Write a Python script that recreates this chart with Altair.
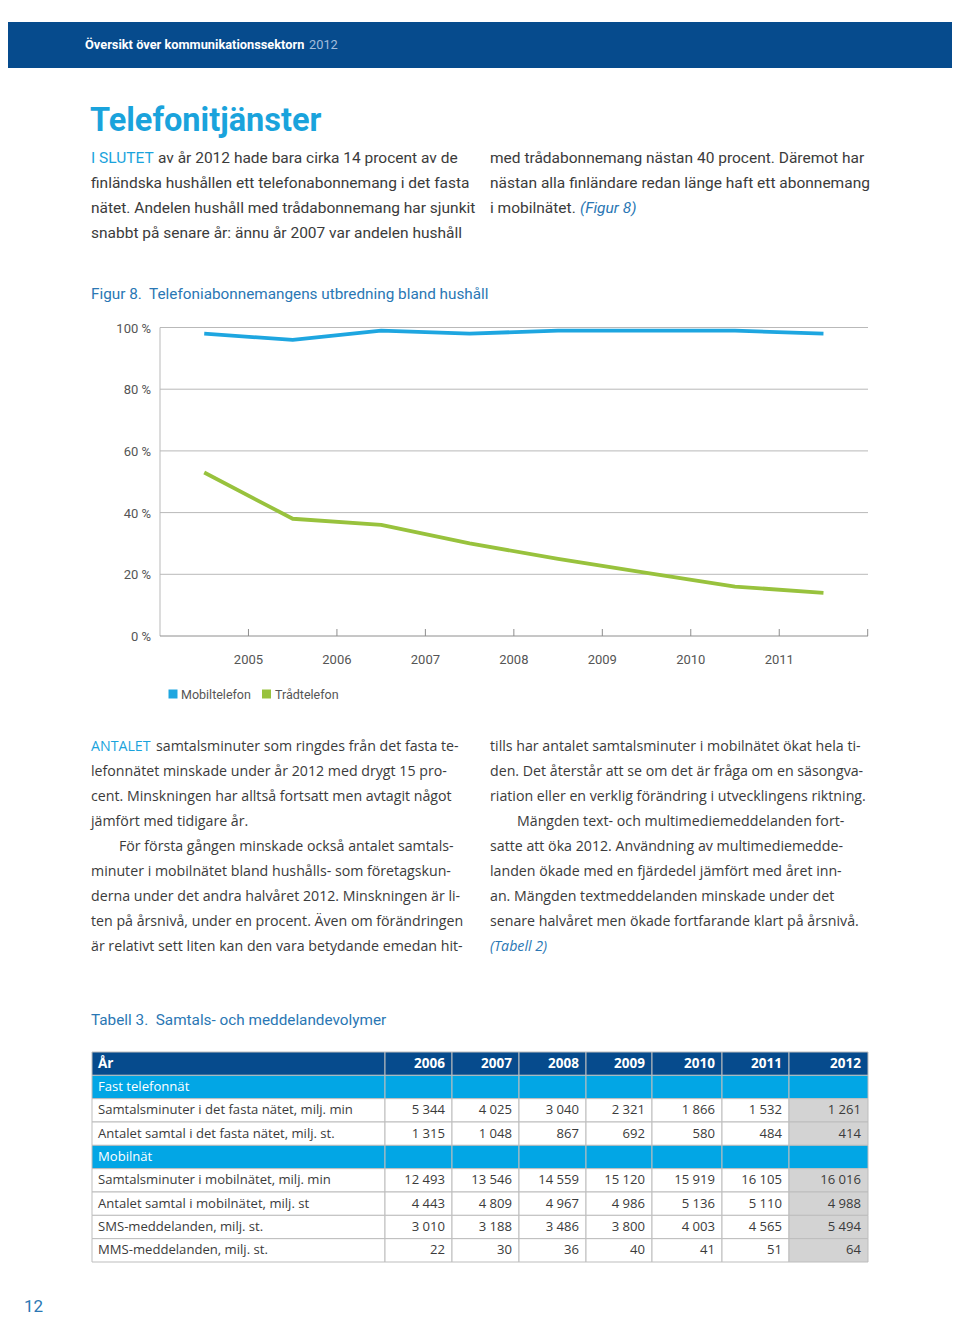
import altair as alt
import pandas as pd

# ---------------- Figur 8 data ----------------
SERIES = ["Mobiltelefon", "Trådtelefon"]
POINT_YEAR = [2004.5, 2005.5, 2006.5, 2007.5, 2008.5, 2009.5, 2010.5, 2011.5]
MOBILTELEFON = [98, 96, 99, 98, 99, 99, 99, 98]
TRADTELEFON = [53, 38, 36, 30, 25, 20.5, 16, 14]
X_TICK_YEARS = [2005, 2006, 2007, 2008, 2009, 2010, 2011]
X_EDGE_YEARS = [2012]
Y_TICKS = [0, 20, 40, 60, 80, 100]

# ---------------- Tabell 3 data ----------------
TABLE_YEARS = [2006, 2007, 2008, 2009, 2010, 2011, 2012]
ROW_LABELS = [
    "År",
    "Fast telefonnät",
    "Samtalsminuter i det fasta nätet, milj. min",
    "Antalet samtal i det fasta nätet, milj. st.",
    "Mobilnät",
    "Samtalsminuter i mobilnätet, milj. min",
    "Antalet samtal i mobilnätet, milj. st",
    "SMS-meddelanden, milj. st.",
    "MMS-meddelanden, milj. st.",
]
ROW_KIND = ["header", "section", "data", "data", "section", "data", "data", "data", "data"]
FIXED_MINUTES = [5344, 4025, 3040, 2321, 1866, 1532, 1261]
FIXED_CALLS = [1315, 1048, 867, 692, 580, 484, 414]
MOBILE_MINUTES = [12493, 13546, 14559, 15120, 15919, 16105, 16016]
MOBILE_CALLS = [4443, 4809, 4967, 4986, 5136, 5110, 4988]
SMS = [3010, 3188, 3486, 3800, 4003, 4565, 5494]
MMS = [22, 30, 36, 40, 41, 51, 64]
ROW_VALUES = {
    ROW_LABELS[2]: FIXED_MINUTES,
    ROW_LABELS[3]: FIXED_CALLS,
    ROW_LABELS[5]: MOBILE_MINUTES,
    ROW_LABELS[6]: MOBILE_CALLS,
    ROW_LABELS[7]: SMS,
    ROW_LABELS[8]: MMS,
}

# ---------------- page texts ----------------
NB = "\u00a0"
HEADER_BOLD = "Översikt över kommunikationssektorn"
HEADER_YEAR = "2012"
TITLE = "Telefonitjänster"
TOP_LEAD = "I SLUTET"
TOP_LEFT = [
    "av år 2012 hade bara cirka 14 procent av de",
    "finländska hushållen ett telefonabonnemang i det fasta",
    "nätet. Andelen hushåll med trådabonnemang har sjunkit",
    "snabbt på senare år: ännu år 2007 var andelen hushåll",
]
TOP_RIGHT = [
    "med trådabonnemang nästan 40 procent. Däremot har",
    "nästan alla finländare redan länge haft ett abonnemang",
    "i mobilnätet.",
]
FIG_REF = "(Figur 8)"
FIG_TITLE = "Figur 8." + NB + " Telefoniabonnemangens utbredning bland hushåll"
LOW_LEAD = "ANTALET"
LOW_LEFT = [
    "samtalsminuter som ringdes från det fasta te-",
    "lefonnätet minskade under år 2012 med drygt 15 pro-",
    "cent. Minskningen har alltså fortsatt men avtagit något",
    "jämfört med tidigare år.",
    "För första gången minskade också antalet samtals-",
    "minuter i mobilnätet bland hushålls- som företagskun-",
    "derna under det andra halvåret 2012. Minskningen är li-",
    "ten på årsnivå, under en procent. Även om förändringen",
    "är relativt sett liten kan den vara betydande emedan hit-",
]
LOW_RIGHT = [
    "tills har antalet samtalsminuter i mobilnätet ökat hela ti-",
    "den. Det återstår att se om det är fråga om en säsongva-",
    "riation eller en verklig förändring i utvecklingens riktning.",
    "Mängden text- och multimediemeddelanden fort-",
    "satte att öka 2012. Användning av multimediemedde-",
    "landen ökade med en fjärdedel jämfört med året inn-",
    "an. Mängden textmeddelanden minskade under det",
    "senare halvåret men ökade fortfarande klart på årsnivå.",
]
TAB_REF = "(Tabell 2)"
TABLE_TITLE = "Tabell 3." + NB + " Samtals- och meddelandevolymer"
PAGE_NO = "12"

# ---------------- styles / layout ----------------
W, H, M = 944, 1310, 8


def P(v):
    return v - M


DARK_BLUE = "#064b8d"
CYAN = "#1aa3dc"
SECTION = "#02a6e5"
LINK = "#2a77b4"
TEXT = "#3b3b3b"
MOBILE_C = "#1ea6e0"
FIXED_C = "#98c23d"
GRID = "#b9b9b9"
AXIS = "#8e8e8e"
LABEL = "#555555"
CELL_LINE = "#bdbdbd"
HIGHLIGHT = "#d3d3d3"

COL_EDGES = [92, 385, 452, 519, 586, 652, 722, 789, 868]
BASE = pd.DataFrame({"a": [0]})


def text_layer(items, size, color, font="Roboto", weight="normal", style="normal",
               align="left", baseline="middle"):
    df = pd.DataFrame([{"x": P(x), "y": P(y), "t": t} for x, y, t in items])
    return alt.Chart(df).mark_text(
        font=font, fontSize=size, fontWeight=weight, fontStyle=style,
        align=align, baseline=baseline, color=color
    ).encode(x=alt.X("x:Q", scale=None), y=alt.Y("y:Q", scale=None), text="t:N")


def xs():
    return alt.Scale(domain=[2004, 2012], range=[P(160), P(867.7)])


def ys():
    return alt.Scale(domain=[0, 100], range=[P(636), P(327.5)])


def cs():
    return alt.Scale(domain=list(range(len(COL_EDGES))), range=[P(e) for e in COL_EDGES])


def rs():
    return alt.Scale(type="band", domain=ROW_LABELS, range=[P(1052), P(1262)],
                     paddingInner=0, paddingOuter=0)


layers = []

# header band
layers.append(alt.Chart(BASE).mark_rect(color=DARK_BLUE).encode(
    x=alt.value(0), x2=alt.value(W), y=alt.value(P(22)), y2=alt.value(P(68))))
layers.append(text_layer([(85, 45, HEADER_BOLD)], 12.8, "#ffffff", weight="bold"))
layers.append(text_layer([(309, 45, HEADER_YEAR)], 12.8, "#a3bddc"))

# title + top paragraph
TS_TOP = 15.5
layers.append(text_layer([(90, 121, TITLE)], 32.5, CYAN, weight="bold"))
TOP_Y = [158, 183, 208, 233]
top_left_items = [((158 if i == 0 else 91), y, t) for i, (y, t) in enumerate(zip(TOP_Y, TOP_LEFT))]
layers.append(text_layer(top_left_items, TS_TOP, TEXT))
layers.append(text_layer([(91, TOP_Y[0], TOP_LEAD)], TS_TOP, CYAN))
layers.append(text_layer([(490, y, t) for y, t in zip(TOP_Y, TOP_RIGHT)], TS_TOP, TEXT))
layers.append(text_layer([(580, TOP_Y[2], FIG_REF)], TS_TOP, LINK, style="italic"))
layers.append(text_layer([(91, 294, FIG_TITLE)], 15.3, LINK))

# ---- Figur 8 chart ----
grid_df = pd.DataFrame({"v": Y_TICKS[1:]})
layers.append(alt.Chart(grid_df).mark_rule(color=GRID, strokeWidth=1).encode(
    y=alt.Y("v:Q", scale=ys(), axis=None), x=alt.value(P(160)), x2=alt.value(P(868))))
layers.append(alt.Chart(pd.DataFrame({"lo": [0], "hi": [100]})).mark_rule(color=GRID, strokeWidth=1).encode(
    y=alt.Y("hi:Q", scale=ys(), axis=None), y2="lo:Q", x=alt.value(P(160))))
layers.append(alt.Chart(pd.DataFrame({"v": Y_TICKS[:1]})).mark_rule(color=AXIS, strokeWidth=1).encode(
    y=alt.Y("v:Q", scale=ys(), axis=None), x=alt.value(P(160)), x2=alt.value(P(868))))
layers.append(alt.Chart(pd.DataFrame({"t": X_TICK_YEARS + X_EDGE_YEARS})).mark_rule(color=AXIS, strokeWidth=1).encode(
    x=alt.X("t:Q", scale=xs(), axis=None), y=alt.value(P(629)), y2=alt.value(P(636))))

ylab_df = pd.DataFrame({"v": Y_TICKS, "label": [f"{v} %" for v in Y_TICKS]})
layers.append(alt.Chart(ylab_df).mark_text(font="Roboto", fontSize=13, color=LABEL, align="right",
                                           baseline="middle", dy=1).encode(
    y=alt.Y("v:Q", scale=ys(), axis=None), x=alt.value(P(151)), text="label:N"))
xlab_df = pd.DataFrame({"t": X_TICK_YEARS, "label": [str(t) for t in X_TICK_YEARS]})
layers.append(alt.Chart(xlab_df).mark_text(font="Roboto", fontSize=13, color=LABEL, align="center",
                                           baseline="middle").encode(
    x=alt.X("t:Q", scale=xs(), axis=None), y=alt.value(P(660)), text="label:N"))

line_df = pd.DataFrame({
    "year": POINT_YEAR + POINT_YEAR,
    "pct": MOBILTELEFON + TRADTELEFON,
    "series": [SERIES[0]] * len(POINT_YEAR) + [SERIES[1]] * len(POINT_YEAR),
})
color_scale = alt.Scale(domain=SERIES, range=[MOBILE_C, FIXED_C])
layers.append(alt.Chart(line_df).mark_line(strokeWidth=3.8, strokeJoin="round").encode(
    x=alt.X("year:Q", scale=xs(), axis=None),
    y=alt.Y("pct:Q", scale=ys(), axis=None),
    color=alt.Color("series:N", scale=color_scale, legend=None)))

# legend
leg_df = pd.DataFrame({"series": SERIES, "sx": [P(173), P(266.5)], "tx": [P(181), P(275)]})
layers.append(alt.Chart(leg_df).mark_square(size=81, opacity=1).encode(
    x=alt.X("sx:Q", scale=None), y=alt.value(P(694)),
    color=alt.Color("series:N", scale=color_scale, legend=None)))
layers.append(alt.Chart(leg_df).mark_text(font="Roboto", fontSize=12.5, color=LABEL, align="left",
                                          baseline="middle").encode(
    x=alt.X("tx:Q", scale=None), y=alt.value(P(695)), text="series:N"))

# lower paragraphs
LOW_Y = [747 + 25 * i for i in range(9)]
LF = "Open Sans"
LS = 14.2
left_items = []
for i, (y, t) in enumerate(zip(LOW_Y, LOW_LEFT)):
    x = 156 if i == 0 else (119 if i == 4 else 91)
    left_items.append((x, y, t))
layers.append(text_layer(left_items, LS, TEXT, font=LF))
layers.append(text_layer([(91, LOW_Y[0], LOW_LEAD)], LS, CYAN, font=LF))
right_items = [((517 if i == 3 else 490), y, t) for i, (y, t) in enumerate(zip(LOW_Y, LOW_RIGHT))]
layers.append(text_layer(right_items, LS, TEXT, font=LF))
layers.append(text_layer([(490, LOW_Y[8], TAB_REF)], LS, LINK, font=LF, style="italic"))

layers.append(text_layer([(91, 1020, TABLE_TITLE)], 15.3, LINK))

# ---- Tabell 3 ----
cells = []
for label, kind in zip(ROW_LABELS, ROW_KIND):
    for c in range(len(COL_EDGES) - 1):
        fill = "highlight" if (kind == "data" and c == len(COL_EDGES) - 2) else kind
        cells.append({"row": label, "c0": c, "c1": c + 1, "fill": fill})
cells_df = pd.DataFrame(cells)
layers.append(alt.Chart(cells_df).mark_rect(stroke=CELL_LINE, strokeWidth=1).encode(
    x=alt.X("c0:Q", scale=cs(), axis=None), x2="c1:Q",
    y=alt.Y("row:N", scale=rs(), axis=None),
    fill=alt.Fill("fill:N", scale=alt.Scale(domain=["header", "section", "data", "highlight"],
                                            range=[DARK_BLUE, SECTION, "#ffffff", HIGHLIGHT]),
                  legend=None)))

TF = "Open Sans"
TS = 13.1
HS = 13.5
head_df = pd.DataFrame({"row": [ROW_LABELS[0]], "c": [0], "t": [ROW_LABELS[0]]})
layers.append(alt.Chart(head_df).mark_text(font=TF, fontSize=HS, fontWeight="bold", color="#ffffff",
                                           align="left", baseline="middle", dx=6).encode(
    x=alt.X("c:Q", scale=cs(), axis=None), y=alt.Y("row:N", scale=rs(), axis=None), text="t:N"))
years_df = pd.DataFrame({"row": [ROW_LABELS[0]] * len(TABLE_YEARS),
                         "c": list(range(2, 2 + len(TABLE_YEARS))),
                         "t": [str(y) for y in TABLE_YEARS]})
layers.append(alt.Chart(years_df).mark_text(font=TF, fontSize=HS, fontWeight="bold", color="#ffffff",
                                            align="right", baseline="middle", dx=-7).encode(
    x=alt.X("c:Q", scale=cs(), axis=None), y=alt.Y("row:N", scale=rs(), axis=None), text="t:N"))

sec_rows = [l for l, k in zip(ROW_LABELS, ROW_KIND) if k == "section"]
sec_df = pd.DataFrame({"row": sec_rows, "c": [0] * len(sec_rows), "t": sec_rows})
layers.append(alt.Chart(sec_df).mark_text(font=TF, fontSize=TS, color="#ffffff",
                                          align="left", baseline="middle", dx=6).encode(
    x=alt.X("c:Q", scale=cs(), axis=None), y=alt.Y("row:N", scale=rs(), axis=None), text="t:N"))

data_rows = [l for l, k in zip(ROW_LABELS, ROW_KIND) if k == "data"]
dl_df = pd.DataFrame({"row": data_rows, "c": [0] * len(data_rows), "t": data_rows})
layers.append(alt.Chart(dl_df).mark_text(font=TF, fontSize=TS, color=TEXT,
                                         align="left", baseline="middle", dx=6).encode(
    x=alt.X("c:Q", scale=cs(), axis=None), y=alt.Y("row:N", scale=rs(), axis=None), text="t:N"))

vals = []
for label in data_rows:
    for i, v in enumerate(ROW_VALUES[label]):
        vals.append({"row": label, "c": i + 2, "t": f"{v:,}".replace(",", " ")})
vals_df = pd.DataFrame(vals)
layers.append(alt.Chart(vals_df).mark_text(font=TF, fontSize=TS, color=TEXT,
                                           align="right", baseline="middle", dx=-7).encode(
    x=alt.X("c:Q", scale=cs(), axis=None), y=alt.Y("row:N", scale=rs(), axis=None), text="t:N"))

# page number
layers.append(text_layer([(24, 1307, PAGE_NO)], 17, LINK))

chart = alt.layer(*layers).properties(
    width=W, height=H, padding=0, background="#ffffff",
    autosize=alt.AutoSizeParams(type="none"),
).resolve_scale(
    x="independent", y="independent", color="independent", fill="independent"
).configure_view(stroke=None)

chart.save("out.html", embed_options={"renderer": "svg", "actions": False})
